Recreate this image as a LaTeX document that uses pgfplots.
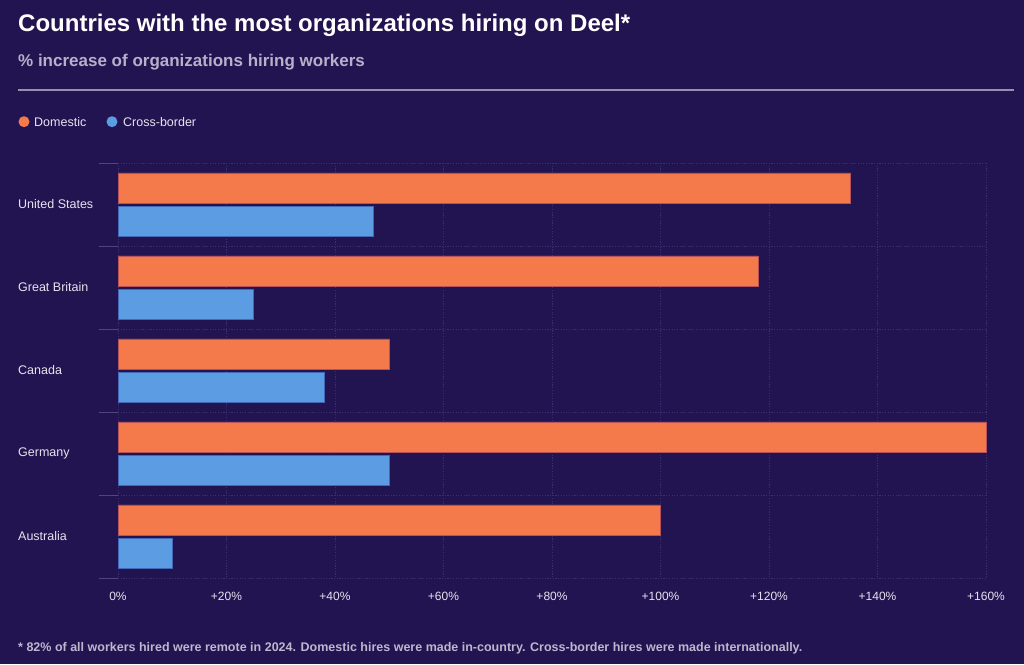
\documentclass[border=0pt]{standalone}
\usepackage{pgfplots}
\pgfplotsset{compat=1.18}
\usepackage{fontspec}
\setmainfont{Liberation Sans}
\definecolor{bg}{HTML}{221450}
\definecolor{dom}{HTML}{F47A4B}
\definecolor{domedge}{HTML}{B5525A}
\definecolor{cb}{HTML}{5C9CE3}
\definecolor{cbedge}{HTML}{4468B8}
\definecolor{gridc}{HTML}{3A2E6C}
\definecolor{sepc}{HTML}{4E4480}
\definecolor{subc}{HTML}{B7B0CB}
\definecolor{rulec}{HTML}{9690B0}
\definecolor{labc}{HTML}{E6E3EF}
\definecolor{footc}{HTML}{BDB7CF}
\begin{document}
\begin{tikzpicture}[x=1pt,y=1pt]
\fill[bg] (0,0) rectangle (1024,664);
% titles
\node[anchor=base west,inner sep=0pt,text=white,font=\fontsize{24}{28}\selectfont\bfseries] at (18,632) {Countries with the most organizations hiring on Deel*};
\node[anchor=base west,inner sep=0pt,text=subc,font=\fontsize{17}{20}\selectfont\bfseries] at (18,597) {\% increase of organizations hiring workers};
\draw[rulec,line width=1.3pt] (18,574) -- (1014,574);
% legend
\fill[dom] (24,542.3) circle (5.5);
\node[anchor=base west,inner sep=0pt,text=labc,font=\fontsize{12.5}{15}\selectfont] at (34,537.8) {Domestic};
\fill[cb] (112,542.3) circle (5.5);
\node[anchor=base west,inner sep=0pt,text=labc,font=\fontsize{12.5}{15}\selectfont] at (123,537.8) {Cross-border};
% footnote
\node[anchor=base west,inner sep=0pt,text=footc,font=\fontsize{12.5}{15}\selectfont\bfseries] at (18,13) {* 82\% of all workers hired were remote in 2024. Domestic hires were made in-country. Cross-border hires were made internationally.};
\begin{axis}[
  at={(118pt,86pt)}, anchor=south west,
  width=868pt, height=415pt, scale only axis,
  xmin=0, xmax=160, ymin=-0.5, ymax=4.5,
  y dir=reverse,
  clip=false,
  axis line style={draw=none},
  tick style={draw=none},
  xtick={0,20,40,60,80,100,120,140,160},
  xticklabels={0\%,+20\%,+40\%,+60\%,+80\%,+100\%,+120\%,+140\%,+160\%},
  xticklabel style={inner sep=0pt,anchor=north,yshift=-14pt,text=labc,font=\fontsize{12}{14}\selectfont},
  ytick={0,1,2,3,4},
  yticklabels={United States,Great Britain,Canada,Germany,Australia},
  yticklabel style={inner sep=0pt,anchor=west,xshift=-100pt,text=labc,font=\fontsize{12.5}{15}\selectfont},
  xmajorgrids,
  major grid style={gridc,line width=0.8pt,dash pattern=on 1.2pt off 1.5pt},
]
\draw[gridc,line width=0.8pt,dash pattern=on 1.2pt off 1.5pt] (axis cs:0,-0.5) -- (axis cs:160,-0.5);
\draw[gridc,line width=0.8pt,dash pattern=on 1.2pt off 1.5pt] (axis cs:0,0.5) -- (axis cs:160,0.5);
\draw[gridc,line width=0.8pt,dash pattern=on 1.2pt off 1.5pt] (axis cs:0,1.5) -- (axis cs:160,1.5);
\draw[gridc,line width=0.8pt,dash pattern=on 1.2pt off 1.5pt] (axis cs:0,2.5) -- (axis cs:160,2.5);
\draw[gridc,line width=0.8pt,dash pattern=on 1.2pt off 1.5pt] (axis cs:0,3.5) -- (axis cs:160,3.5);
\draw[gridc,line width=0.8pt,dash pattern=on 1.2pt off 1.5pt] (axis cs:0,4.5) -- (axis cs:160,4.5);
\draw[sepc,line width=1pt] (axis cs:-3.5,-0.5) -- (axis cs:0,-0.5);
\draw[sepc,line width=1pt] (axis cs:-3.5,0.5) -- (axis cs:0,0.5);
\draw[sepc,line width=1pt] (axis cs:-3.5,1.5) -- (axis cs:0,1.5);
\draw[sepc,line width=1pt] (axis cs:-3.5,2.5) -- (axis cs:0,2.5);
\draw[sepc,line width=1pt] (axis cs:-3.5,3.5) -- (axis cs:0,3.5);
\draw[sepc,line width=1pt] (axis cs:-3.5,4.5) -- (axis cs:0,4.5);
\addplot[xbar, bar width=30pt, bar shift=0pt, fill=dom, draw=domedge, line width=0.6pt]
  coordinates {(135,-0.2) (118,0.8) (50,1.8) (160,2.8) (100,3.8)};
\addplot[xbar, bar width=30pt, bar shift=0pt, fill=cb, draw=cbedge, line width=0.6pt]
  coordinates {(47,0.2) (25,1.2) (38,2.2) (50,3.2) (10,4.2)};
\end{axis}
\end{tikzpicture}
\end{document}
